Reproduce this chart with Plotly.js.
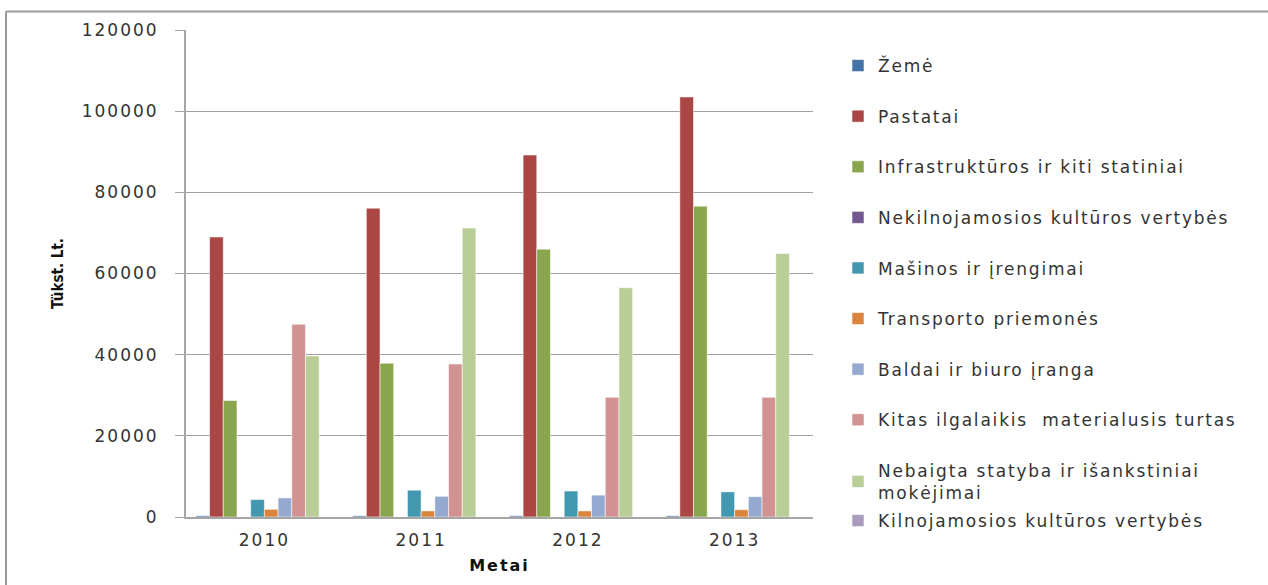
<!DOCTYPE html>
<html><head><meta charset="utf-8">
<script src="https://cdn.plot.ly/plotly-3.0.1.min.js"></script>
<style>
html,body{margin:0;padding:0;background:#fff}
#chart{width:1268px;height:585px}
text.legendtext{letter-spacing:1.8px}
#chart g.legend2 text{letter-spacing:1.8px}
#js-plotly-tester text{letter-spacing:1.8px}
#chart .ytick text{letter-spacing:2px}
#chart .xtick text{letter-spacing:2px}
#chart .g-xtitle text{letter-spacing:2px}
</style>
</head><body><div id="chart"></div>
<script>
const years = ['2010', '2011', '2012', '2013'];
const seriesNames = [
  'Žemė',
  'Pastatai',
  'Infrastruktūros ir kiti statiniai',
  'Nekilnojamosios kultūros vertybės',
  'Mašinos ir įrengimai',
  'Transporto priemonės',
  'Baldai ir biuro įranga',
  'Kitas ilgalaikis  materialusis turtas',
  'Nebaigta statyba ir išankstiniai<br>mokėjimai',
  'Kilnojamosios kultūros vertybės'
];
const zeme = [300, 300, 300, 300];
const pastatai = [69000, 76100, 89200, 103500];
const infrastruktura = [28700, 37900, 66000, 76600];
const nekilnojamosios = [0, 0, 0, 0];
const masinos = [4300, 6600, 6400, 6200];
const transportas = [1900, 1500, 1500, 1800];
const baldai = [4700, 5100, 5400, 5000];
const kitas = [47500, 37700, 29500, 29500];
const nebaigta = [39700, 71200, 56500, 64900];
const kilnojamosios = [0, 0, 0, 0];
const seriesValues = [zeme, pastatai, infrastruktura, nekilnojamosios, masinos,
  transportas, baldai, kitas, nebaigta, kilnojamosios];
const colors = ['#4572A7', '#AA4643', '#89A54E', '#71588F', '#4198AF',
  '#DB843D', '#93A9CF', '#D19392', '#B9CD96', '#A99BBD'];
const yTicks = [0, 20000, 40000, 60000, 80000, 100000, 120000];

const traces = seriesNames.map((name, i) => ({
  type: 'bar',
  name: name,
  x: years,
  y: seriesValues[i],
  marker: {color: colors[i], line: {color: 'rgba(255,255,255,0.55)', width: 1}},
  legend: i === 9 ? 'legend2' : 'legend',
  legendgroup: 'g' + i,
  hoverinfo: 'x+y+name'
}));

const txt = '#333333';
const legendFont = {family: 'DejaVu Sans, sans-serif', size: 17, color: txt};

const layout = {
  width: 1268, height: 585,
  margin: {l: 186, r: 455, t: 30, b: 68, pad: 0},
  paper_bgcolor: '#ffffff', plot_bgcolor: '#ffffff',
  barmode: 'group', bargap: 0.126, bargroupgap: 0,
  font: {family: 'DejaVu Sans, sans-serif', size: 16, color: txt},
  xaxis: {
    type: 'category',
    showline: true, linecolor: '#A6A6A6', linewidth: 2,
    showgrid: false, ticks: '',
    ticklabelstandoff: 7,
    tickfont: {family: 'DejaVu Sans, sans-serif', size: 17, color: txt},
    title: {text: '<b>Metai</b>', font: {family: 'DejaVu Sans, sans-serif', size: 16, color: '#111'}, standoff: 10}
  },
  yaxis: {
    range: [0, 120000], tickvals: yTicks, ticktext: yTicks.map(String),
    showline: true, linecolor: '#A6A6A6', linewidth: 2,
    showgrid: true, gridcolor: '#A0A0A0', gridwidth: 1,
    zeroline: false,
    ticks: 'outside', ticklen: 9, tickcolor: '#A6A6A6', tickwidth: 1,
    ticklabelstandoff: 13,
    tickfont: {family: 'DejaVu Sans, sans-serif', size: 17, color: txt},
    title: {text: '<b>Tükst. Lt.</b>', font: {family: 'Liberation Sans Narrow, DejaVu Sans Condensed, sans-serif', size: 15, color: '#111'}, standoff: 16}
  },
  legend: {
    xref: 'container', yref: 'container',
    x: 838 / 1268, y: 1 - 48 / 585, xanchor: 'left', yanchor: 'top',
    traceorder: 'grouped', tracegroupgap: 25.5, maxheight: 560,
    font: legendFont, bgcolor: 'rgba(0,0,0,0)', borderwidth: 0
  },
  legend2: {
    xref: 'container', yref: 'container',
    x: 838 / 1268, y: 1 - 503 / 585, xanchor: 'left', yanchor: 'top',
    font: legendFont, bgcolor: 'rgba(0,0,0,0)', borderwidth: 0
  },
  shapes: [
    {type: 'line', xref: 'paper', yref: 'paper', x0: (6 - 186) / 627, x1: (1268 - 186) / 627,
     y0: (517 - 11.5) / 487, y1: (517 - 11.5) / 487, line: {color: '#9A9A9A', width: 2}},
    {type: 'line', xref: 'paper', yref: 'paper', x0: (6 - 186) / 627, x1: (6 - 186) / 627,
     y0: (517 - 11.5) / 487, y1: (517 - 590) / 487, line: {color: '#9A9A9A', width: 2}}
  ],
  showlegend: true
};

Plotly.newPlot('chart', traces, layout, {displayModeBar: false});
</script>
</body></html>
